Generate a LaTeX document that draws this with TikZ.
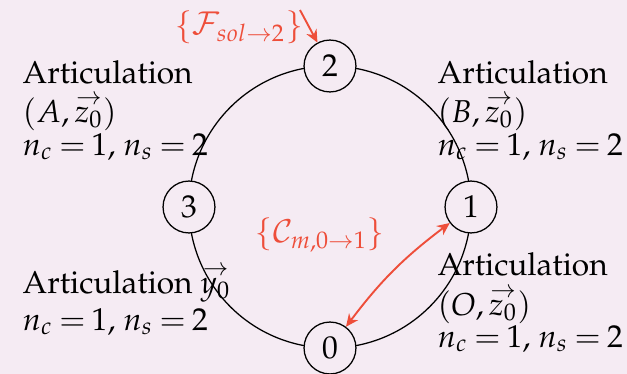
\documentclass[tikz,border=0pt]{standalone}
\usepackage[T1]{fontenc}
\usepackage{mathpazo}
\usetikzlibrary{arrows.meta}
\definecolor{bg}{RGB}{245,235,243}
\definecolor{myred}{RGB}{238,78,58}
\newcommand{\myvec}[1]{\mathord{\vbox{\offinterlineskip\halign{\hfil##\hfil\cr$\scriptstyle\rightarrow$\cr\noalign{\kern0.6pt}$#1$\cr}}}}
\thickmuskip=3.5mu plus 2mu
\begin{document}
\begin{tikzpicture}[x=0.316pt,y=-0.316pt,
  state/.style={circle,draw,fill=bg,minimum size=16.4pt,inner sep=0pt},
  info/.style={anchor=base west,inner sep=0pt},
  redlbl/.style={text=myred,inner sep=0pt},
  redtip/.style={-{Stealth[length=4pt,width=3.6pt]}},
  redarrow/.style={draw=myred,semithick}]
\fill[bg] (0,0) rectangle (627,374);
\useasboundingbox (0,0) rectangle (627,374);
\draw (330,207) circle [radius=141];
\node[state] (n2) at (330,66) {2};
\node[state] (n0) at (330,348) {0};
\node[state] (n3) at (189,207) {3};
\node[state] (n1) at (471,207) {1};
% top left
\node[info] (tl1) at (22,83) {Articulation};
\node[info] (tl2) at (22,122) {$(A,\myvec{z_0})$};
\node[info] (tl3) at (22,155) {$n_c=1$, $n_s=2$};
% top right
\node[info] (tr1) at (437,83) {Articulation};
\node[info] (tr2) at (437,122) {$(B,\myvec{z_0})$};
\node[info] (tr3) at (437,155) {$n_c=1$, $n_s=2$};
% bottom left
\node[info] (bl1) at (22,293) {Articulation $\myvec{y_0}$};
\node[info] (bl2) at (22,330) {$n_c=1$, $n_s=2$};
% bottom right
\node[info] (br1) at (437,275) {Articulation};
\node[info] (br2) at (437,315) {$(O,\myvec{z_0})$};
\node[info] (br3) at (437,347) {$n_c=1$, $n_s=2$};
\node[redlbl] (fl) at (239,27) {$\left\{\mathcal{F}_{sol\rightarrow 2}\right\}$};
\node[redlbl] (cl) at (320,235) {$\left\{\mathcal{C}_{m,0\rightarrow 1}\right\}$};
\coordinate (fs) at (300,10);
\draw[redarrow,redtip] (fs) -- (n2);
\draw[redarrow,{Stealth[length=4pt,width=3.6pt]}-{Stealth[length=4pt,width=3.6pt]}] (n1) to[bend right=8] (n0);
\end{tikzpicture}
\end{document}
